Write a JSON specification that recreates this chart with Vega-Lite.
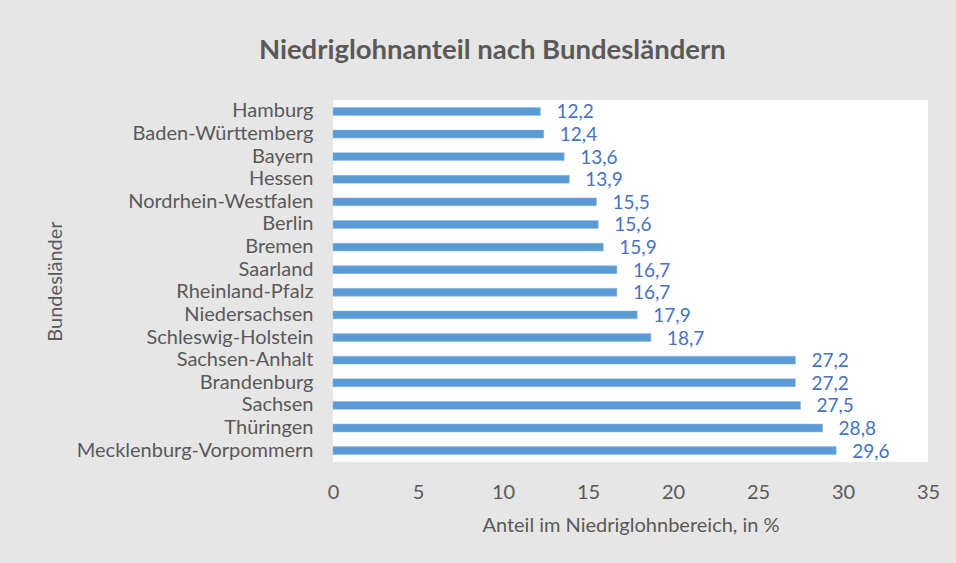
{
  "$schema": "https://vega.github.io/schema/vega-lite/v6.json",
  "width": 595,
  "height": 362,
  "autosize": {"type": "none"},
  "padding": {"left": 333, "top": 100, "right": 28, "bottom": 101},
  "background": "#e7e6e6",
  "title": {
    "text": "Niedriglohnanteil nach Bundesländern",
    "frame": "bounds",
    "anchor": "middle",
    "offset": 36,
    "font": "Lato",
    "fontSize": 27.5,
    "fontWeight": "bold",
    "color": "#595959"
  },
  "config": {
    "view": {"fill": "white", "stroke": null},
    "locale": {"number": {"decimal": ",", "thousands": ".", "grouping": [3], "currency": ["", " €"]}}
  },
  "data": {
    "values": [
      {"land": "Hamburg", "anteil": 12.2},
      {"land": "Baden-Württemberg", "anteil": 12.4},
      {"land": "Bayern", "anteil": 13.6},
      {"land": "Hessen", "anteil": 13.9},
      {"land": "Nordrhein-Westfalen", "anteil": 15.5},
      {"land": "Berlin", "anteil": 15.6},
      {"land": "Bremen", "anteil": 15.9},
      {"land": "Saarland", "anteil": 16.7},
      {"land": "Rheinland-Pfalz", "anteil": 16.7},
      {"land": "Niedersachsen", "anteil": 17.9},
      {"land": "Schleswig-Holstein", "anteil": 18.7},
      {"land": "Sachsen-Anhalt", "anteil": 27.2},
      {"land": "Brandenburg", "anteil": 27.2},
      {"land": "Sachsen", "anteil": 27.5},
      {"land": "Thüringen", "anteil": 28.8},
      {"land": "Mecklenburg-Vorpommern", "anteil": 29.6}
    ]
  },
  "encoding": {
    "y": {
      "field": "land",
      "type": "nominal",
      "sort": ["Hamburg", "Baden-Württemberg", "Bayern", "Hessen", "Nordrhein-Westfalen", "Berlin", "Bremen", "Saarland", "Rheinland-Pfalz", "Niedersachsen", "Schleswig-Holstein", "Sachsen-Anhalt", "Brandenburg", "Sachsen", "Thüringen", "Mecklenburg-Vorpommern"],
      "scale": {"paddingInner": 0.65, "paddingOuter": 0.33},
      "axis": {
        "title": "Bundesländer",
        "titleFont": "Lato",
        "titleFontSize": 20,
        "titleFontWeight": "normal",
        "titleColor": "#595959",
        "titleX": -278,
        "titleBaseline": "middle",
        "labelFont": "Lato",
        "labelFontSize": 20,
        "labelColor": "#595959",
        "labelPadding": 20,
        "labelLimit": 400,
        "ticks": false,
        "domain": false,
        "grid": false
      }
    },
    "x": {
      "field": "anteil",
      "type": "quantitative",
      "scale": {"domain": [0, 35], "nice": false},
      "axis": {
        "title": "Anteil im Niedriglohnbereich, in %",
        "values": [0, 5, 10, 15, 20, 25, 30, 35],
        "titleFont": "Lato",
        "titleFontSize": 20,
        "titleFontWeight": "normal",
        "titleColor": "#595959",
        "titlePadding": 13,
        "labelFont": "Lato",
        "labelFontSize": 20,
        "labelColor": "#595959",
        "labelPadding": 20,
        "labelFlush": false,
        "ticks": false,
        "domain": false,
        "grid": false
      }
    }
  },
  "layer": [
    {"mark": {"type": "bar", "color": "#5b9bd5", "stroke": "#8db8e2", "strokeWidth": 0.5}},
    {
      "mark": {"type": "text", "align": "left", "baseline": "middle", "dx": 16, "dy": 1, "color": "#4472c4", "font": "Lato", "fontSize": 19},
      "encoding": {"text": {"field": "anteil", "type": "quantitative", "format": ".1f"}}
    }
  ]
}
